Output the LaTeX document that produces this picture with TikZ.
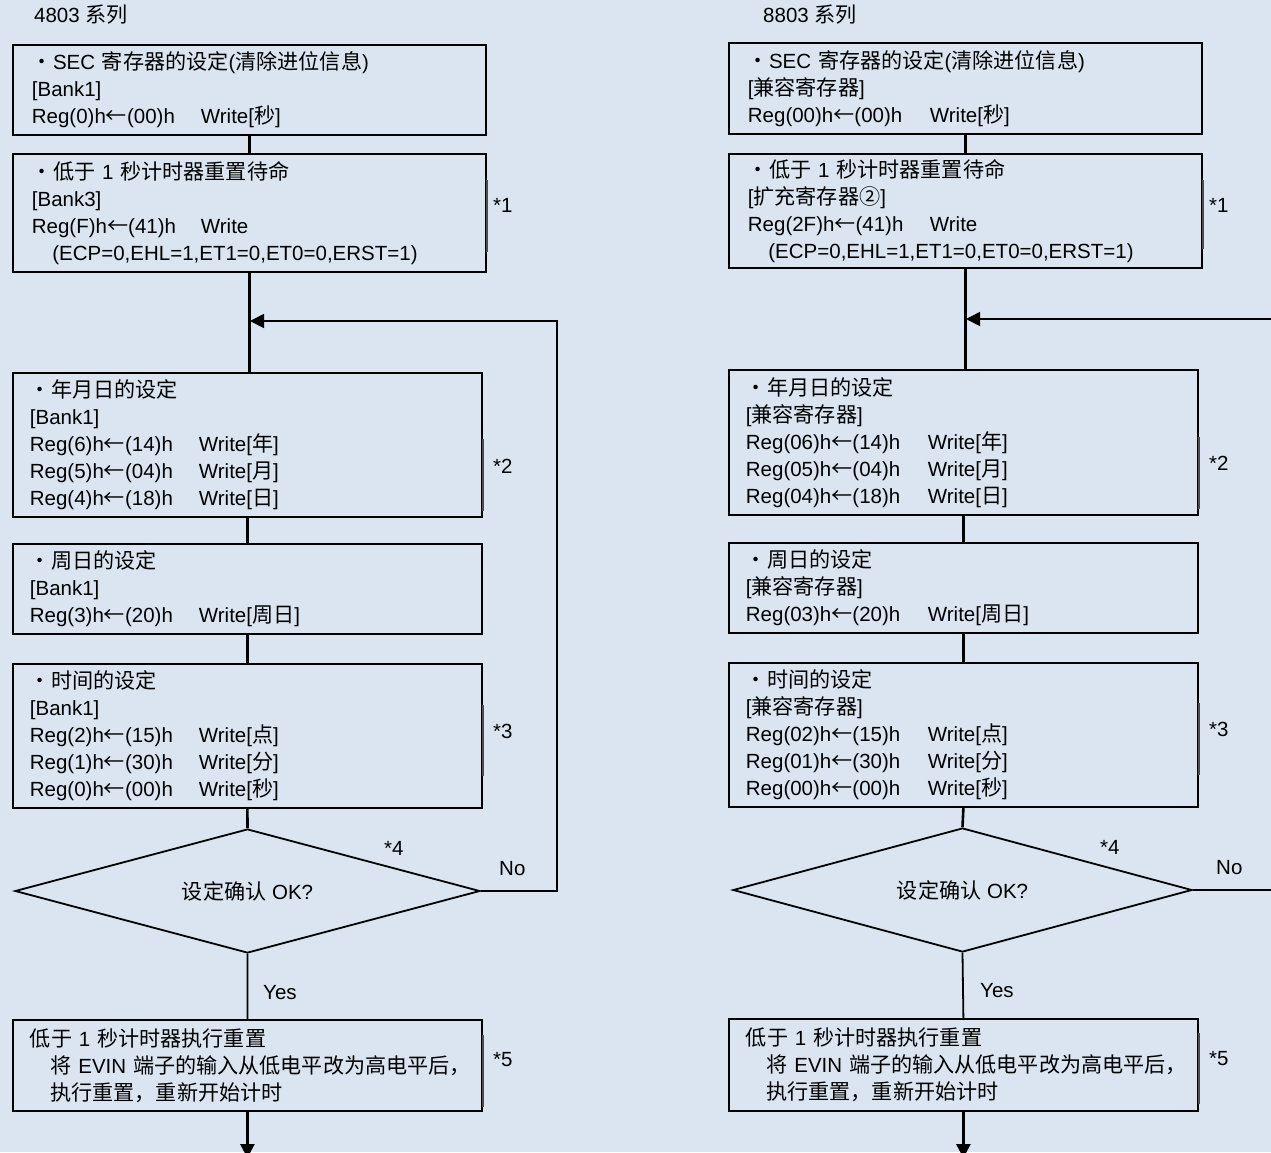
\documentclass[tikz,border=0pt]{standalone}
\usepackage{fontspec}
\setmainfont{Liberation Sans}
\newfontfamily\zhfont[Scale=1.03]{Noto Sans CJK SC}
\newcommand\zh[1]{{\zhfont #1}}
\newlength\regcol
\newcommand\reg[1]{\makebox[\regcol][l]{#1}}
\usetikzlibrary{shapes.geometric,arrows.meta}
\definecolor{bgblue}{HTML}{DBE5F1}

\tikzset{
  stepbox/.style={draw, line width=1.8pt, anchor=north west, minimum width=#1,
    text width=435pt, inner xsep=17pt, inner ysep=0pt, align=left,
    font=\fontsize{20.5pt}{27pt}\selectfont},
  stepbox/.default=469pt,
  check/.style={diamond, draw, line width=1.8pt, inner sep=0pt, shape aspect=3.7,
    font=\fontsize{20.5pt}{27pt}\selectfont},
  flow/.style={line width=2.6pt},
  link/.style={line width=1.8pt},
  brk/.style={line width=2.6pt, draw=black!70},
  note/.style={anchor=west, inner sep=0pt, font=\fontsize{20.5pt}{24pt}\selectfont},
  headarr/.style={-{Triangle[length=14pt,width=14pt]}},
}

\begin{document}
\begin{tikzpicture}[x=1pt, y=-1pt]
  \fill[bgblue] (0,0) rectangle (1271,1152);
  \useasboundingbox (0,0) rectangle (1271,1152);
  \clip (0,0) rectangle (1271,1152);

  % 4803 series (left)
  \setlength\regcol{169pt}
  \node[note] (serL) at (34,15) {4803 \zh{系列}};
  \node[stepbox=473pt, minimum height=90pt] (secL) at (12,44)
    {\zh{・}SEC \zh{寄存器的设定}(\zh{清除进位信息})\\{}[Bank1]\\
     \reg{Reg(0)h\zh{←}(00)h}Write[\zh{秒}]};
  \node[stepbox=473pt, minimum height=118pt] (waitL) at (12,153)
    {\zh{・低于} 1 \zh{秒计时器重置待命}\\{}[Bank3]\\
     \reg{Reg(F)h\zh{←}(41)h}Write\\
     \quad(ECP=0,EHL=1,ET1=0,ET0=0,ERST=1)};
  \node[stepbox, minimum height=144pt] (ymdL) at (12,372)
    {\zh{・年月日的设定}\\{}[Bank1]\\
     \reg{Reg(6)h\zh{←}(14)h}Write[\zh{年}]\\
     \reg{Reg(5)h\zh{←}(04)h}Write[\zh{月}]\\
     \reg{Reg(4)h\zh{←}(18)h}Write[\zh{日}]};
  \node[stepbox, minimum height=90pt] (wdayL) at (12,543)
    {\zh{・周日的设定}\\{}[Bank1]\\
     \reg{Reg(3)h\zh{←}(20)h}Write[\zh{周日}]};
  \node[stepbox, minimum height=144pt] (timeL) at (12,663)
    {\zh{・时间的设定}\\{}[Bank1]\\
     \reg{Reg(2)h\zh{←}(15)h}Write[\zh{点}]\\
     \reg{Reg(1)h\zh{←}(30)h}Write[\zh{分}]\\
     \reg{Reg(0)h\zh{←}(00)h}Write[\zh{秒}]};
  \node[check, minimum width=465pt, minimum height=124pt] (okL) at (247.5,891)
    {\zh{设定确认} OK?};
  \node[stepbox, minimum height=91pt] (rstL) at (12,1019)
    {\zh{低于} 1 \zh{秒计时器执行重置}\\
     \quad\zh{将} EVIN \zh{端子的输入从低电平改为高电平后，}\\
     \quad\zh{执行重置，重新开始计时}};

  \coordinate (loopL) at (557,321);
  \coordinate (backL) at (250,321);
  \coordinate (endL) at (0,1158);

  \draw[flow] (secL.south) -- (waitL.north);
  \draw[flow] (waitL.south) -- (waitL.south |- ymdL.north);
  \draw[flow] (ymdL.south) -- (wdayL.north);
  \draw[flow] (wdayL.south) -- (timeL.north);
  \draw[flow] (timeL.south) -- (okL.north);
  \draw[link] (okL.south) -- (rstL.north);
  \draw[link, headarr] (okL.east) -| (loopL) -- (backL);
  \draw[flow, headarr] (rstL.south) -- (rstL.south |- endL);

  \draw[brk] (waitL.east |- 0,180) -- (waitL.east |- 0,252);
  \draw[brk] (ymdL.east |- 0,439) -- (ymdL.east |- 0,511);
  \draw[brk] (timeL.east |- 0,705) -- (timeL.east |- 0,776);
  \draw[brk] (rstL.east |- 0,1035) -- (rstL.east |- 0,1107);

  \node[note] (c1L) at (493,205) {*1};
  \node[note] (c2L) at (493,466) {*2};
  \node[note] (c3L) at (493,731) {*3};
  \node[note] (c4L) at (384,848) {*4};
  \node[note] (c5L) at (493,1060) {*5};
  \node[note] (noL) at (499,869) {No};
  \node[note] (yesL) at (263,993) {Yes};

  % 8803 series (right)
  \setlength\regcol{182pt}
  \node[note] (serR) at (763,15) {8803 \zh{系列}};
  \node[stepbox=473pt, minimum height=91pt] (secR) at (728,42)
    {\zh{・}SEC \zh{寄存器的设定}(\zh{清除进位信息})\\{}[\zh{兼容寄存器}]\\
     \reg{Reg(00)h\zh{←}(00)h}Write[\zh{秒}]};
  \node[stepbox=473pt, minimum height=114pt] (waitR) at (728,153)
    {\zh{・低于} 1 \zh{秒计时器重置待命}\\{}[\zh{扩充寄存器②}]\\
     \reg{Reg(2F)h\zh{←}(41)h}Write\\
     \quad(ECP=0,EHL=1,ET1=0,ET0=0,ERST=1)};
  \node[stepbox, minimum height=145pt] (ymdR) at (728,369)
    {\zh{・年月日的设定}\\{}[\zh{兼容寄存器}]\\
     \reg{Reg(06)h\zh{←}(14)h}Write[\zh{年}]\\
     \reg{Reg(05)h\zh{←}(04)h}Write[\zh{月}]\\
     \reg{Reg(04)h\zh{←}(18)h}Write[\zh{日}]};
  \node[stepbox, minimum height=90pt] (wdayR) at (728,542)
    {\zh{・周日的设定}\\{}[\zh{兼容寄存器}]\\
     \reg{Reg(03)h\zh{←}(20)h}Write[\zh{周日}]};
  \node[stepbox, minimum height=144pt] (timeR) at (728,662)
    {\zh{・时间的设定}\\{}[\zh{兼容寄存器}]\\
     \reg{Reg(02)h\zh{←}(15)h}Write[\zh{点}]\\
     \reg{Reg(01)h\zh{←}(30)h}Write[\zh{分}]\\
     \reg{Reg(00)h\zh{←}(00)h}Write[\zh{秒}]};
  \node[check, minimum width=459pt, minimum height=124pt] (okR) at (962.5,890)
    {\zh{设定确认} OK?};
  \node[stepbox, minimum height=92pt] (rstR) at (728,1018)
    {\zh{低于} 1 \zh{秒计时器执行重置}\\
     \quad\zh{将} EVIN \zh{端子的输入从低电平改为高电平后，}\\
     \quad\zh{执行重置，重新开始计时}};

  \coordinate (loopR) at (1290,319);
  \coordinate (backR) at (966,319);
  \coordinate (endR) at (0,1158);

  \draw[flow] (secR.south) -- (waitR.north);
  \draw[flow] (waitR.south) -- (waitR.south |- ymdR.north);
  \draw[flow] (ymdR.south) -- (wdayR.north);
  \draw[flow] (wdayR.south) -- (timeR.north);
  \draw[flow] (timeR.south) -- (okR.north);
  \draw[link] (okR.south) -- (rstR.north);
  \draw[link, headarr] (okR.east) -| (loopR) -- (backR);
  \draw[flow, headarr] (rstR.south) -- (rstR.south |- endR);

  \draw[brk] (waitR.east |- 0,180) -- (waitR.east |- 0,249);
  \draw[brk] (ymdR.east |- 0,437) -- (ymdR.east |- 0,509);
  \draw[brk] (timeR.east |- 0,703) -- (timeR.east |- 0,775);
  \draw[brk] (rstR.east |- 0,1033) -- (rstR.east |- 0,1104);

  \node[note] (c1R) at (1209,205) {*1};
  \node[note] (c2R) at (1209,463) {*2};
  \node[note] (c3R) at (1209,729) {*3};
  \node[note] (c4R) at (1100,847) {*4};
  \node[note] (c5R) at (1209,1059) {*5};
  \node[note] (noR) at (1216,868) {No};
  \node[note] (yesR) at (980,991) {Yes};
\end{tikzpicture}
\end{document}
